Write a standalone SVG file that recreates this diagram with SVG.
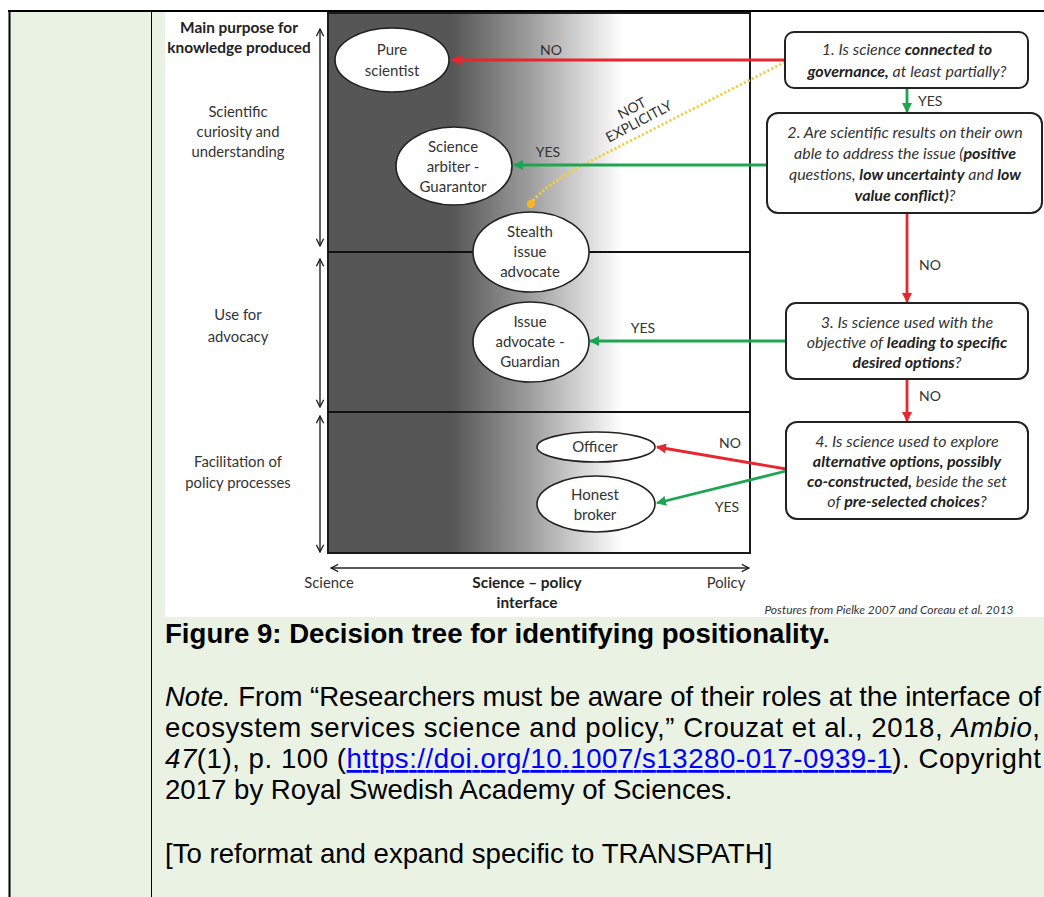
<svg xmlns="http://www.w3.org/2000/svg" width="1044" height="897" viewBox="0 0 1044 897">
<style>
.lbl{font-family:Lato,"Open Sans",sans-serif;font-size:14.8px;fill:#333;text-anchor:middle}
.lblb{font-family:Lato,"Open Sans",sans-serif;font-size:15.4px;font-weight:bold;fill:#222;text-anchor:middle}
.nd{font-family:Lato,"Open Sans",sans-serif;font-size:15px;fill:#333;text-anchor:middle}
.q{font-family:Lato,"Open Sans",sans-serif;font-size:16px;font-style:italic;fill:#333;text-anchor:middle}
.q .b{font-weight:bold;fill:#222}
.cl{font-family:Lato,"Open Sans",sans-serif;font-size:14px;fill:#333}
.ell{fill:#fff;stroke:#222;stroke-width:1.6}
.box{fill:#fff;stroke:#222;stroke-width:2}
.red{stroke:#e8262d;stroke-width:2.8;fill:none}
.grn{stroke:#1ea551;stroke-width:2.8;fill:none}
.ax{stroke:#222;stroke-width:1.4;fill:none}
.doc{font-family:"Liberation Sans",Arial,sans-serif;font-size:27.6px;fill:#000}
</style>
<defs>
<linearGradient id="grad" gradientUnits="userSpaceOnUse" x1="452" y1="0" x2="622" y2="0">
<stop offset="0" stop-color="#565656"/>
<stop offset="0.45" stop-color="#9c9c9c"/>
<stop offset="1" stop-color="#ffffff"/>
</linearGradient>
<marker id="ar" viewBox="0 0 10 10" refX="9" refY="5" markerWidth="10" markerHeight="10" markerUnits="userSpaceOnUse" orient="auto"><path d="M0,0 L10,5 L0,10 z" fill="#e8262d"/></marker>
<marker id="ag" viewBox="0 0 10 10" refX="9" refY="5" markerWidth="10" markerHeight="10" markerUnits="userSpaceOnUse" orient="auto"><path d="M0,0 L10,5 L0,10 z" fill="#1ea551"/></marker>
<marker id="ab" viewBox="0 0 10 10" refX="9" refY="5" markerWidth="9" markerHeight="9" markerUnits="userSpaceOnUse" orient="auto-start-reverse"><path d="M1,1 L9,5 L1,9" fill="none" stroke="#222" stroke-width="1.5"/></marker>
</defs>

<!-- page -->
<rect x="0" y="0" width="1044" height="897" fill="#fff"/>
<rect x="9" y="11" width="1035" height="886" fill="#eaf2e3"/>
<rect x="165" y="12" width="879" height="605" fill="#fff"/>
<line x1="8" y1="11" x2="1044" y2="11" stroke="#000" stroke-width="2"/>
<line x1="9.5" y1="10" x2="9.5" y2="897" stroke="#000" stroke-width="2"/>
<line x1="151.5" y1="11" x2="151.5" y2="897" stroke="#000" stroke-width="1"/>

<!-- figure frame -->
<g id="frame">
<rect x="328" y="13" width="422" height="540" fill="url(#grad)" stroke="#1a1a1a" stroke-width="2"/>
<line x1="328" y1="252" x2="750" y2="252" stroke="#111" stroke-width="2"/>
<line x1="328" y1="412" x2="750" y2="412" stroke="#111" stroke-width="2"/>
<line class="ax" x1="320" y1="29" x2="320" y2="246" marker-start="url(#ab)" marker-end="url(#ab)"/>
<line class="ax" x1="320" y1="259" x2="320" y2="407" marker-start="url(#ab)" marker-end="url(#ab)"/>
<line class="ax" x1="320" y1="416" x2="320" y2="552" marker-start="url(#ab)" marker-end="url(#ab)"/>
<line class="ax" x1="331" y1="568" x2="749" y2="568" marker-start="url(#ab)" marker-end="url(#ab)"/>
<text class="lblb" x="239" y="33">Main purpose for</text>
<text class="lblb" x="239" y="53">knowledge produced</text>
<text class="lbl" x="238" y="117">Scientific</text>
<text class="lbl" x="238" y="137">curiosity and</text>
<text class="lbl" x="238" y="157">understanding</text>
<text class="lbl" x="238" y="320">Use for</text>
<text class="lbl" x="238" y="342">advocacy</text>
<text class="lbl" x="238" y="467">Facilitation of</text>
<text class="lbl" x="238" y="488">policy processes</text>
<text class="lbl" x="329" y="588" font-size="15.3">Science</text>
<text class="lblb" x="527" y="588">Science – policy</text>
<text class="lblb" x="527" y="608">interface</text>
<text class="lbl" x="726" y="588" font-size="15.3">Policy</text>
<text x="889" y="614" font-family="Lato,'Open Sans',sans-serif" font-size="12" font-style="italic" fill="#333" text-anchor="middle">Postures from Pielke 2007 and Coreau et al. 2013</text>
</g>

<!-- connectors -->
<g id="connectors">
<path d="M785,62 L587,163 Q545,185 531,203" stroke="#f3cf34" stroke-width="2.8" stroke-dasharray="2.2 2.2" fill="none"/>
<circle cx="531" cy="204" r="4.2" fill="#f4b526"/>
<line class="red" x1="785" y1="60" x2="452" y2="60" marker-end="url(#ar)"/>
<line class="grn" x1="767" y1="165" x2="514" y2="165" marker-end="url(#ag)"/>
<line class="grn" x1="907" y1="88" x2="907" y2="112" marker-end="url(#ag)"/>
<line class="red" x1="907" y1="213" x2="907" y2="302" marker-end="url(#ar)"/>
<line class="grn" x1="786" y1="341" x2="590" y2="341" marker-end="url(#ag)"/>
<line class="red" x1="907" y1="379" x2="907" y2="421" marker-end="url(#ar)"/>
<line class="red" x1="786" y1="469" x2="657" y2="447" marker-end="url(#ar)"/>
<line class="grn" x1="786" y1="471" x2="657" y2="503" marker-end="url(#ag)"/>
<text class="cl" x="551" y="55" text-anchor="middle">NO</text>
<text class="cl" x="548" y="157" text-anchor="middle">YES</text>
<g transform="translate(636,116) rotate(-28)">
<text class="cl" x="0" y="-4" text-anchor="middle" font-size="13">NOT</text>
<text class="cl" x="0" y="11" text-anchor="middle" font-size="13">EXPLICITLY</text>
</g>
<text class="cl" x="918" y="106">YES</text>
<text class="cl" x="930" y="270" text-anchor="middle">NO</text>
<text class="cl" x="643" y="333" text-anchor="middle">YES</text>
<text class="cl" x="930" y="401" text-anchor="middle">NO</text>
<text class="cl" x="730" y="448" text-anchor="middle">NO</text>
<text class="cl" x="727" y="512" text-anchor="middle">YES</text>
</g>

<!-- nodes -->
<g id="pure-scientist">
<ellipse class="ell" cx="392" cy="60" rx="57" ry="32"/>
<text class="nd" x="392" y="55">Pure</text>
<text class="nd" x="392" y="76">scientist</text>
</g>
<g id="science-arbiter">
<ellipse class="ell" cx="454" cy="166" rx="58" ry="39"/>
<text class="nd" x="453" y="152">Science</text>
<text class="nd" x="453" y="172">arbiter -</text>
<text class="nd" x="453" y="192">Guarantor</text>
</g>
<g id="stealth-issue-advocate">
<ellipse class="ell" cx="531" cy="252" rx="58" ry="40"/>
<text class="nd" x="530" y="237">Stealth</text>
<text class="nd" x="530" y="257">issue</text>
<text class="nd" x="530" y="277">advocate</text>
</g>
<g id="issue-advocate">
<ellipse class="ell" cx="531" cy="342" rx="58" ry="40"/>
<text class="nd" x="530" y="327">Issue</text>
<text class="nd" x="530" y="347">advocate -</text>
<text class="nd" x="530" y="367">Guardian</text>
</g>
<g id="officer">
<ellipse class="ell" cx="596" cy="447" rx="59" ry="15"/>
<text class="nd" x="595" y="452">Officer</text>
</g>
<g id="honest-broker">
<ellipse class="ell" cx="596" cy="504" rx="59" ry="28"/>
<text class="nd" x="595" y="500">Honest</text>
<text class="nd" x="595" y="520">broker</text>
</g>

<g id="q1">
<rect class="box" x="785" y="32" width="243" height="56" rx="9"/>
<text class="q" x="907" y="55">1. Is science <tspan class="b">connected to</tspan></text>
<text class="q" x="907" y="77"><tspan class="b">governance,</tspan> at least partially?</text>
</g>
<g id="q2">
<rect class="box" x="767" y="113" width="275" height="100" rx="11"/>
<text class="q" x="905" y="138">2. Are scientific results on their own</text>
<text class="q" x="905" y="159">able to address the issue (<tspan class="b">positive</tspan></text>
<text class="q" x="905" y="180">questions, <tspan class="b">low uncertainty</tspan> and <tspan class="b">low</tspan></text>
<text class="q" x="905" y="201"><tspan class="b">value conflict)</tspan>?</text>
</g>
<g id="q3">
<rect class="box" x="786" y="303" width="242" height="76" rx="10"/>
<text class="q" x="907" y="328">3. Is science used with the</text>
<text class="q" x="907" y="348">objective of <tspan class="b">leading to specific</tspan></text>
<text class="q" x="907" y="368"><tspan class="b">desired options</tspan>?</text>
</g>
<g id="q4">
<rect class="box" x="786" y="422" width="242" height="97" rx="11"/>
<text class="q" x="907" y="447">4. Is science used to explore</text>
<text class="q" x="907" y="467"><tspan class="b">alternative options, possibly</tspan></text>
<text class="q" x="907" y="487"><tspan class="b">co-constructed,</tspan> beside the set</text>
<text class="q" x="907" y="507">of <tspan class="b">pre-selected choices</tspan>?</text>
</g>

<!-- caption and note -->
<g id="caption">
<text class="doc" x="165" y="643" font-weight="bold">Figure 9: Decision tree for identifying positionality.</text>
<text class="doc" x="165" y="706" textLength="876" lengthAdjust="spacing"><tspan font-style="italic">Note.</tspan> From “Researchers must be aware of their roles at the interface of</text>
<text class="doc" x="165" y="737" textLength="875" lengthAdjust="spacing">ecosystem services science and policy,” Crouzat et al., 2018, <tspan font-style="italic">Ambio</tspan>,</text>
<text class="doc" x="165" y="768" textLength="876" lengthAdjust="spacing"><tspan font-style="italic">47</tspan>(1), p. 100 (<tspan fill="#0000ff" text-decoration="underline">https://doi.org/10.1007/s13280-017-0939-1</tspan>). Copyright</text>
<text class="doc" x="165" y="799">2017 by Royal Swedish Academy of Sciences.</text>
<text class="doc" x="165" y="863">[To reformat and expand specific to TRANSPATH]</text>
</g>
</svg>
